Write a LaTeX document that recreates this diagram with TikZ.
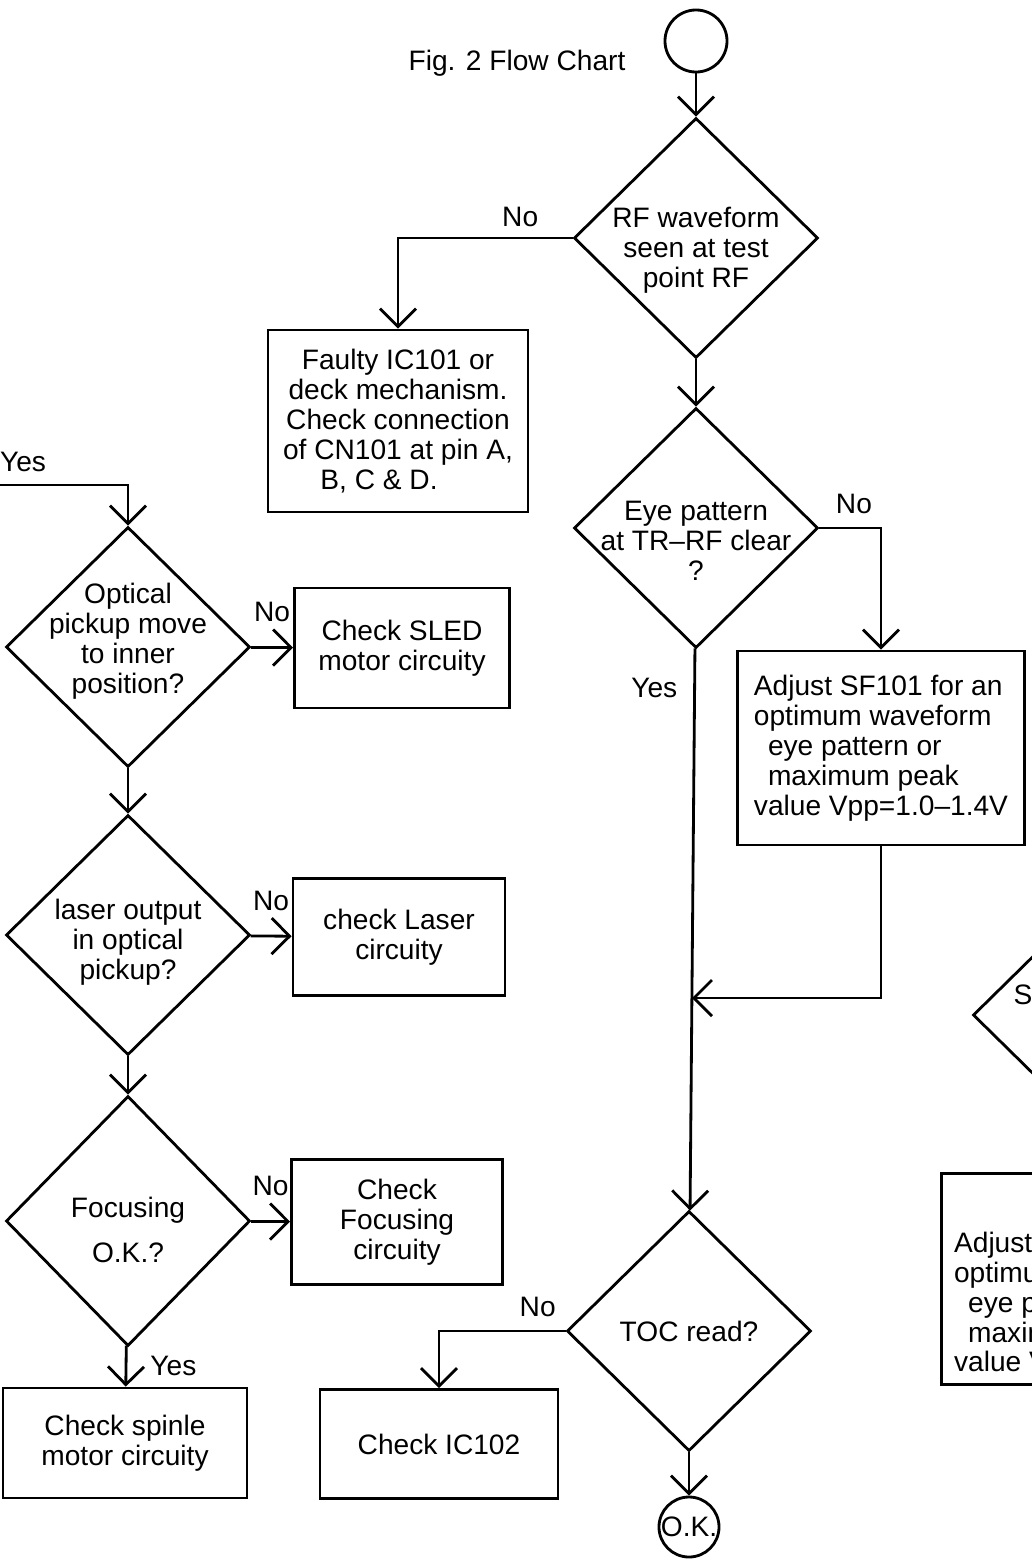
\documentclass[tikz,border=0pt]{standalone}
\usepackage{fontspec}
\setmainfont{Liberation Sans}
\usetikzlibrary{shapes.geometric,arrows.meta}

\begin{document}
\begin{tikzpicture}[x=0.025cm, y=-0.025cm, line width=2pt,
    every node/.style={font=\fontsize{20}{21.3}\selectfont},
    arr/.style={-{Straight Barb[length=0.45cm,width=0.9cm]}},
    decision/.style={shape=diamond, draw=black, inner sep=0pt, minimum width=6.1cm, minimum height=6cm},
    box/.style={shape=rectangle, draw=black},
    term/.style={shape=circle, draw=black, inner sep=0pt, minimum size=1.5cm},
    txt/.style={align=center}]
    \clip (0,0) rectangle (1032,1565);

    % title and start
    \node (title) at (517,63) {Fig. 2 Flow Chart};
    \node[term, minimum size=1.55cm] (start) at (696,41) {};

    % middle column
    \node[decision] (rf) at (696,238) {};
    \node[txt] (rftext) at (696,250) {RF waveform\\seen at test\\point RF};
    \node[box, align=center, minimum width=6.5cm, minimum height=4.55cm] (faulty) at (398,421) {Faulty IC101 or\\deck mechanism.\\Check connection\\of CN101 at pin A,\\B, C \& D.\hspace*{1.35em}};
    \node[decision] (eye) at (696,528) {};
    \node[txt] (eyetext) at (696,541) {Eye pattern\\at TR--RF clear\\?};
    \node[box, align=left, minimum width=7.175cm, minimum height=4.85cm] (adjust) at (881,748) {Adjust SF101 for an\\optimum waveform\\\hspace*{0.5em}eye pattern or\\\hspace*{0.5em}maximum peak\\value Vpp=1.0--1.4V};
    \coordinate (merge) at (692,998);
    \node[decision] (toc) at (689,1331) {TOC read?};
    \node[box, minimum width=5.95cm, minimum height=2.72cm] (ic102) at (439,1444) {Check IC102};
    \node[term] (ok) at (689,1527) {O.K.};

    % left column
    \coordinate (inlet) at (0,485);
    \node[decision] (opt) at (128,647) {};
    \node[txt] (opttext) at (128,641) {Optical\\pickup move\\to inner\\position?};
    \node[box, align=center, minimum width=5.375cm, minimum height=3cm] (sled) at (402,648) {Check SLED\\motor circuity};
    \node[decision] (laser) at (128,935) {};
    \node[txt] (lasertext) at (128,942) {laser output\\in optical\\pickup?};
    \node[box, align=center, minimum width=5.3cm, minimum height=2.925cm] (laserbox) at (399,937) {check Laser\\circuity};
    \node[decision, minimum height=6.25cm] (focus) at (128,1221) {};
    \node[txt] (focustext) at (128,1230) {Focusing\\[11pt]O.K.?};
    \node[box, align=center, minimum width=5.275cm, minimum height=3.125cm] (focusbox) at (397,1222) {Check\\Focusing\\circuity};
    \node[box, align=center, minimum width=6.1cm, minimum height=2.75cm] (spindle) at (125,1443) {Check spinle\\motor circuity};

    % cut off at the right edge
    \node[decision] (rightdec) at (1095,1015) {};
    \node (rightdectext) at (1023,995) {S};
    \node[box, anchor=north west, minimum width=7.175cm, minimum height=5.275cm] (adjust2) at (940,1172) {};
    \node[align=left, anchor=west] (adjust2text) at (948,1302) {Adjust\\optimu\\\hspace*{0.5em}eye p\\\hspace*{0.5em}maxin\\value V};

    % connectors
    \draw[arr] (start) -- (rf);
    \draw[arr] (rf.west) -| node[pos=0.15, above=4pt] (rfno) {No} (faulty.north);
    \draw[arr] (rf) -- (eye);
    \draw[arr] (eye.east) -| node[pos=0.28, above=6pt] (eyeno) {No} (adjust.north);
    \draw[arr] (adjust.south) |- (merge);
    \draw[arr] (eye) -- node[pos=0.07, left=8pt] (eyeyes) {Yes} (toc);
    \draw[arr] (toc.west) -| node[pos=0.11, above=6pt] (tocno) {No} (ic102.north);
    \draw[arr] (toc) -- (ok);

    \draw[arr] (inlet) -| node[pos=0.09, above=5pt] (optyes) {Yes} (opt.north);
    \draw[arr] (opt) -- node[above=14pt] (optno) {No} (sled);
    \draw[arr] (opt) -- (laser);
    \draw[arr] (laser) -- node[above=14pt] (laserno) {No} (laserbox);
    \draw[arr] (laser) -- (focus);
    \draw[arr] (focus) -- node[above=14pt] (focusno) {No} (focusbox);
    \draw[arr] (focus) -- node[right=13pt] (focusyes) {Yes} (spindle);
\end{tikzpicture}
\end{document}
